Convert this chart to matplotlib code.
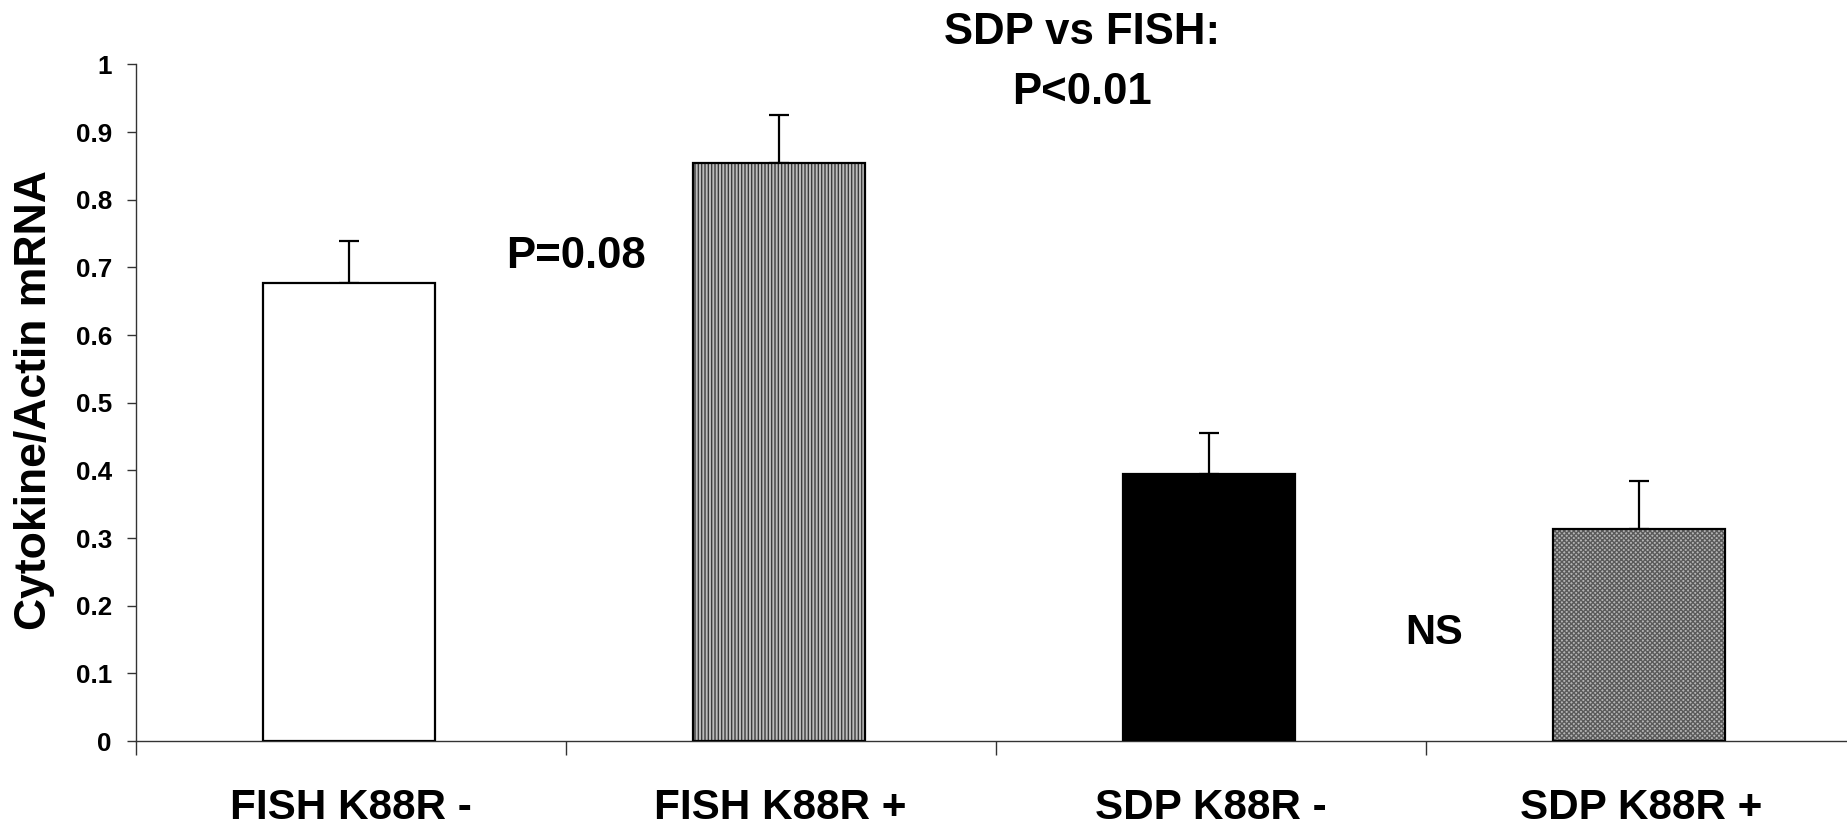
import matplotlib
matplotlib.use("Agg")
import matplotlib.pyplot as plt

plt.rcParams['font.family'] = ['Liberation Sans', 'DejaVu Sans']
plt.rcParams['font.weight'] = 'bold'
plt.rcParams['hatch.linewidth'] = 1.0

categories = ["FISH K88R -", "FISH K88R +", "SDP K88R -", "SDP K88R +"]
means = [0.677, 0.855, 0.395, 0.314]
upper_err = [0.062, 0.070, 0.061, 0.071]
yticks = [0, 0.1, 0.2, 0.3, 0.4, 0.5, 0.6, 0.7, 0.8, 0.9, 1.0]
ytick_labels = ["0", "0.1", "0.2", "0.3", "0.4", "0.5", "0.6", "0.7", "0.8", "0.9", "1"]

W, H = 1847, 830
fig = plt.figure(figsize=(W / 100, H / 100), dpi=100)
left = 135.7 / W
bottom = 1 - 741 / H
top = 1 - 64.5 / H
width = 1720 / W
ax = fig.add_axes([left, bottom, width, top - bottom])

x = [i + 0.5 for i in range(len(categories))]
bw = 0.40

styles = [
    dict(facecolor='white', hatch=None, hcolor='black'),
    dict(facecolor='#bdbdbd', hatch='|||||', hcolor='#3c3c3c'),
    dict(facecolor='black', hatch=None, hcolor='black'),
    dict(facecolor='#b4b4b4', hatch='xxxxxxx', hcolor='#5a5a5a'),
]

for xi, m, e, st in zip(x, means, upper_err, styles):
    ax.bar(xi - 0.005, m, width=bw, color=st['facecolor'], edgecolor=st['hcolor'],
           hatch=st['hatch'], linewidth=0, zorder=2)
    ax.bar(xi - 0.005, m, width=bw, fill=False, edgecolor='black', linewidth=1.6, zorder=3)
    ax.errorbar(xi - 0.005, m, yerr=[[0], [e]], fmt='none', ecolor='black',
                elinewidth=1.6, capsize=7.2, capthick=1.6, zorder=1)

ax.set_xlim(0, 4)
ax.set_ylim(0, 1)
ax.spines['top'].set_visible(False)
ax.spines['right'].set_visible(False)
ax.spines['left'].set_linewidth(1.0)
ax.spines['bottom'].set_linewidth(1.0)
ax.spines['left'].set_color('#333333')
ax.spines['bottom'].set_color('#333333')

ax.set_yticks(yticks)
ax.set_yticklabels(ytick_labels, fontsize=18.7, fontweight='bold')
ax.tick_params(axis='y', direction='out', length=6.5, width=1.0, pad=10.6, color='#333333')

ax.set_xticks([0, 1, 2, 3, 4])
ax.set_xticklabels([])
ax.tick_params(axis='x', which='major', direction='out', length=10, width=1.0, color='#333333')
ax.set_xticks(x, minor=True)
ax.set_xticklabels(categories, minor=True, fontsize=30.4, fontweight='bold')
ax.tick_params(axis='x', which='minor', length=0, pad=34)

fig.text(35 / W, 1 - 400 / H, "Cytokine/Actin mRNA", rotation=90, ha='center', va='center',
         fontsize=32, fontweight='bold')

fig.text(1082 / W, 1 - 32 / H, "SDP vs FISH:", ha='center', va='center', fontsize=31.5, fontweight='bold')
fig.text(1082 / W, 1 - 92 / H, "P<0.01", ha='center', va='center', fontsize=31.5, fontweight='bold')
fig.text(576 / W, 1 - 256 / H, "P=0.08", ha='center', va='center', fontsize=31.5, fontweight='bold')
fig.text(1434 / W, 1 - 633 / H, "NS", ha='center', va='center', fontsize=30, fontweight='bold')

fig.savefig("out.png", dpi=100, facecolor='white')
